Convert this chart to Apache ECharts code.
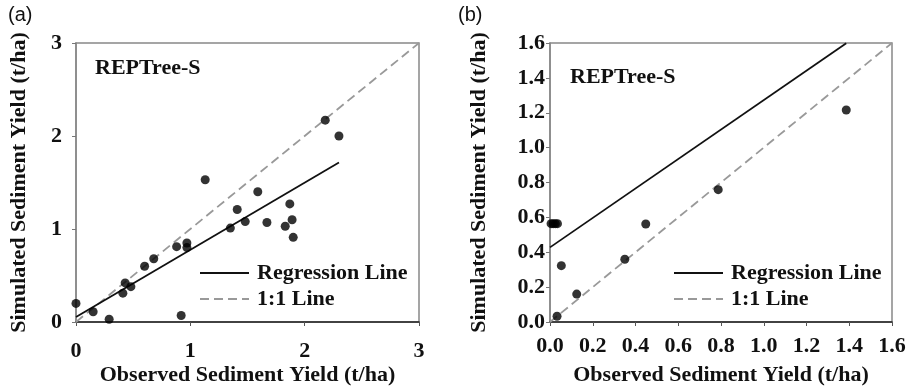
<!DOCTYPE html>
<html>
<head>
<meta charset="utf-8">
<script src="https://cdn.jsdelivr.net/npm/echarts@6/dist/echarts.min.js"></script>
<style>
  html, body { margin: 0; padding: 0; background: #fff; }
  #chart { width: 909px; height: 386px; }
</style>
</head>
<body>
<div id="chart"></div>
<script>
// Panel (a): observed vs simulated sediment yield (t/ha)
const obsA = [0, 0.15, 0.29, 0.41, 0.43, 0.48, 0.60, 0.68, 0.88, 0.92, 0.97, 0.97, 1.13, 1.35, 1.41, 1.48, 1.59, 1.67, 1.83, 1.87, 1.89, 1.90, 2.18, 2.30];
const simA = [0.20, 0.11, 0.03, 0.31, 0.42, 0.38, 0.60, 0.68, 0.81, 0.07, 0.85, 0.80, 1.53, 1.01, 1.21, 1.08, 1.40, 1.07, 1.03, 1.27, 1.10, 0.91, 2.17, 2.00];
// Panel (b)
const obsB = [0.005, 0.015, 0.025, 0.035, 0.033, 0.053, 0.125, 0.35, 0.448, 0.787, 1.386];
const simB = [0.564, 0.564, 0.564, 0.564, 0.033, 0.323, 0.16, 0.36, 0.562, 0.759, 1.216];

// Regression fits: [intercept, slope], drawn over [0, xEnd]
const fitA = [0.054, 0.722];
const fitEndA = 2.30;
const fitB = [0.428, 0.845];
const fitEndB = 1.386;

// Axis ranges
const rangeA = [0, 3];
const stepA = 1;
const rangeB = [0, 1.6];
const stepB = 0.2;

const panelTags = ['(a)', '(b)'];
const modelName = 'REPTree-S';
const xTitle = 'Observed Sediment Yield (t/ha)';
const yTitle = 'Simulated Sediment Yield (t/ha)';
const legendNames = ['Regression Line', '1:1 Line'];

const SERIF = '"Liberation Serif", "Times New Roman", serif';
const boldText = { fontFamily: SERIF, fontWeight: 'bold', fontSize: 22, color: '#111' };

function pairs(xs, ys) { return xs.map((x, i) => [x, ys[i]]); }
function fitLine(fit, xEnd) { return [[0, fit[0]], [xEnd, fit[0] + fit[1] * xEnd]]; }

function xAxisFor(idx, range, step, decimals, labelMargin) {
  return {
    gridIndex: idx, type: 'value', min: range[0], max: range[1], interval: step,
    splitLine: { show: false },
    axisLine: { show: true, onZero: false, lineStyle: { color: '#222', width: 1.5 } },
    axisTick: { show: true, length: 4, lineStyle: { color: '#555' } },
    axisLabel: Object.assign({ margin: labelMargin, formatter: v => v.toFixed(decimals) }, boldText),
    name: xTitle, nameLocation: 'middle', nameGap: 42, nameMoveOverlap: false,
    nameTextStyle: boldText
  };
}
function yAxisFor(idx, range, step, decimals, labelMargin, nameGap) {
  return {
    gridIndex: idx, type: 'value', min: range[0], max: range[1], interval: step,
    splitLine: { show: false },
    axisLine: { show: true, onZero: false, lineStyle: { color: '#888', width: 1.5 } },
    axisTick: { show: true, length: 4, lineStyle: { color: '#777' } },
    axisLabel: Object.assign({ margin: labelMargin, formatter: v => v.toFixed(decimals) }, boldText),
    name: yTitle, nameLocation: 'middle', nameGap: nameGap, nameRotate: 90,
    nameTextStyle: boldText
  };
}

const regStyle = { color: '#111', width: 1.8, type: 'solid' };
const oneStyle = { color: '#999', width: 1.8, type: [9, 5] };

function legendAt(left) {
  return {
    left: left, top: 257, orient: 'vertical', itemWidth: 49, itemHeight: 14, itemGap: 4,
    data: legendNames, selectedMode: false,
    itemStyle: { opacity: 0 },
    textStyle: Object.assign({ padding: [0, 0, 0, 3], lineHeight: 22 }, boldText)
  };
}

function gridAt(left, width) {
  return {
    left: left, top: 43, width: width, height: 279,
    containLabel: false, outerBoundsMode: 'none',
    show: true, borderColor: '#888', borderWidth: 1.5, backgroundColor: 'transparent'
  };
}

const option = {
  animation: false,
  backgroundColor: '#fff',
  grid: [gridAt(76, 343), gridAt(550, 342)],
  xAxis: [
    xAxisFor(0, rangeA, stepA, 0, 18),
    xAxisFor(1, rangeB, stepB, 1, 13)
  ],
  yAxis: [
    yAxisFor(0, rangeA, stepA, 0, 14, 46),
    yAxisFor(1, rangeB, stepB, 1, 5, 60)
  ],
  legend: [legendAt(194), legendAt(668)],
  graphic: [
    { type: 'text', left: 8, top: 5, style: { text: panelTags[0], font: '20px "Liberation Sans", Arial, sans-serif', fill: '#111' } },
    { type: 'text', left: 458, top: 5, style: { text: panelTags[1], font: '20px "Liberation Sans", Arial, sans-serif', fill: '#111' } },
    { type: 'text', left: 95, top: 57, style: { text: modelName, font: 'bold 22px ' + SERIF, fill: '#111' } },
    { type: 'text', left: 570, top: 66, style: { text: modelName, font: 'bold 22px ' + SERIF, fill: '#111' } }
  ],
  series: [
    { name: legendNames[1], type: 'line', xAxisIndex: 0, yAxisIndex: 0, symbol: 'none', silent: true,
      data: [[rangeA[0], rangeA[0]], [rangeA[1], rangeA[1]]], lineStyle: oneStyle, itemStyle: { color: '#999' } },
    { name: legendNames[0], type: 'line', xAxisIndex: 0, yAxisIndex: 0, symbol: 'none', silent: true,
      data: fitLine(fitA, fitEndA), lineStyle: regStyle, itemStyle: { color: '#111' } },
    { name: 'A', type: 'scatter', xAxisIndex: 0, yAxisIndex: 0, symbolSize: 9, silent: true,
      data: pairs(obsA, simA), itemStyle: { color: '#000' }, z: 5 },

    { name: legendNames[1], type: 'line', xAxisIndex: 1, yAxisIndex: 1, symbol: 'none', silent: true,
      data: [[rangeB[0], rangeB[0]], [rangeB[1], rangeB[1]]], lineStyle: oneStyle, itemStyle: { color: '#999' } },
    { name: legendNames[0], type: 'line', xAxisIndex: 1, yAxisIndex: 1, symbol: 'none', silent: true,
      data: fitLine(fitB, fitEndB), lineStyle: regStyle, itemStyle: { color: '#111' } },
    { name: 'B', type: 'scatter', xAxisIndex: 1, yAxisIndex: 1, symbolSize: 9, silent: true,
      data: pairs(obsB, simB), itemStyle: { color: '#000' }, z: 5 }
  ]
};

const chart = echarts.init(document.getElementById('chart'), null, { renderer: 'canvas' });
chart.setOption(option);
</script>
</body>
</html>
